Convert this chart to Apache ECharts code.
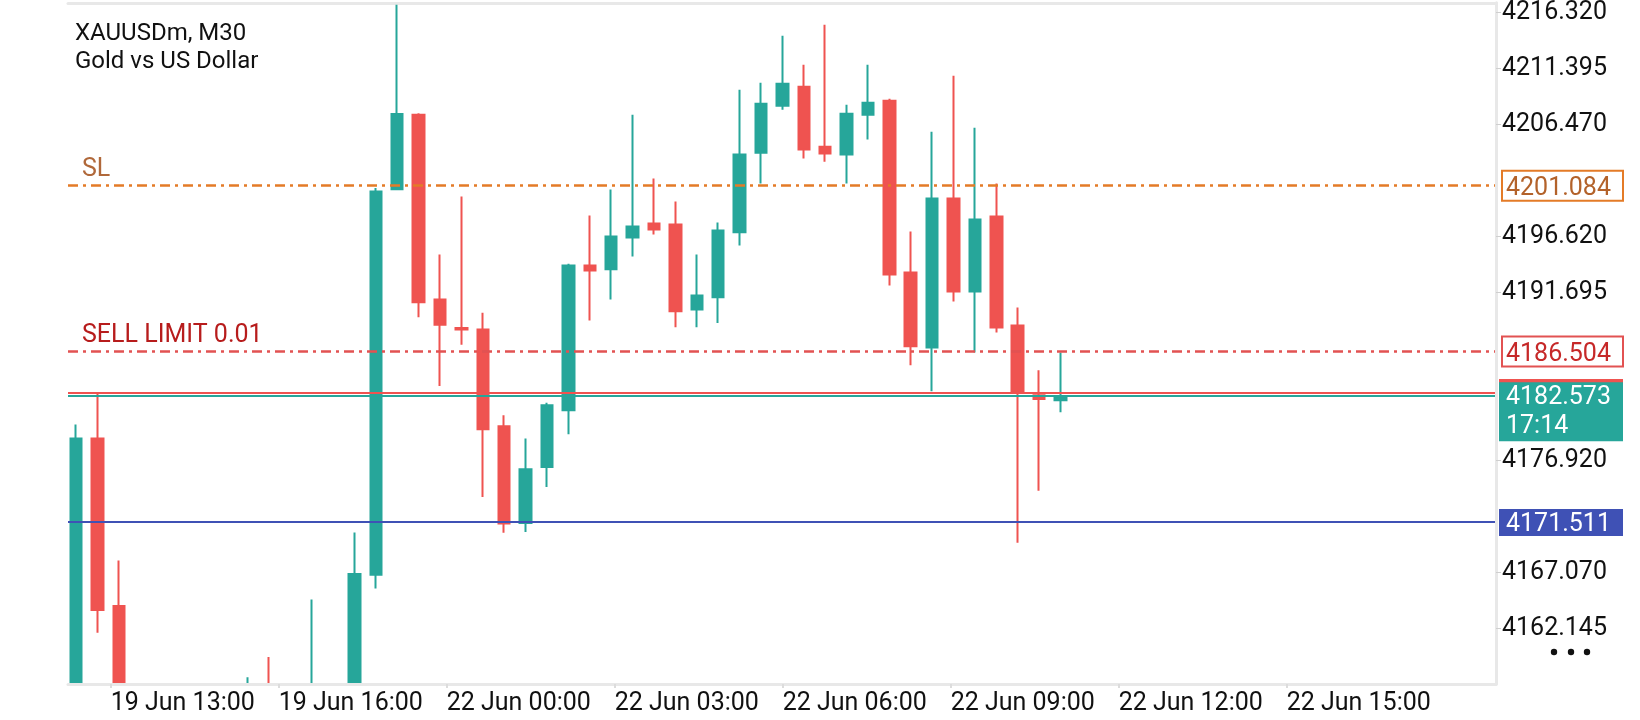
<!DOCTYPE html>
<html>
<head>
<meta charset="utf-8">
<script src="https://cdn.jsdelivr.net/npm/echarts@6/dist/echarts.min.js"></script>
<style>
  html, body { margin: 0; padding: 0; background: #fff; }
  #chart { width: 1640px; height: 720px; }
</style>
</head>
<body>
<div id="chart"></div>
<script>
// XAUUSDm M30 candles (bars 3-7, 10, 12 sit below the visible range)
var opens  = [4150.6, 4178.84, 4164.11, 4152.3, 4150.9, 4152.1, 4151.2, 4152.6, 4151.8, 4154.5,
              4153.2, 4154.0, 4155.6, 4155.1, 4166.86, 4200.77, 4207.33, 4191.08, 4188.57, 4188.44,
              4179.92, 4171.42, 4176.34, 4181.33, 4194.07, 4193.74, 4196.53, 4197.76, 4197.67, 4190.20,
              4191.28, 4196.99, 4203.99, 4208.12, 4209.79, 4204.52, 4203.82, 4207.33, 4208.56, 4193.45,
              4186.86, 4199.95, 4191.78, 4198.37, 4188.79, 4182.64, 4182.22];
var closes = [4178.84, 4163.75, 4152.3, 4150.9, 4152.1, 4151.2, 4152.6, 4151.8, 4154.5, 4153.2,
              4154.0, 4155.6, 4155.1, 4166.92, 4200.57, 4207.39, 4190.84, 4188.86, 4188.44, 4179.66,
              4171.37, 4176.14, 4181.77, 4194.07, 4193.63, 4196.61, 4197.49, 4197.23, 4190.05, 4191.43,
              4197.14, 4203.82, 4208.30, 4210.06, 4204.26, 4203.91, 4207.42, 4208.39, 4193.27, 4186.95,
              4199.95, 4191.78, 4198.11, 4188.62, 4182.85, 4182.32, 4182.573];
var lows   = [4149.9, 4161.76, 4151.2, 4149.6, 4150.2, 4150.4, 4150.5, 4151.0, 4151.2, 4152.0,
              4152.5, 4153.1, 4154.3, 4154.6, 4165.66, 4200.77, 4189.52, 4183.46, 4187.10, 4173.71,
              4170.55, 4170.63, 4174.59, 4179.22, 4189.23, 4191.08, 4194.86, 4196.79, 4188.64, 4188.64,
              4189.00, 4195.82, 4201.27, 4207.77, 4203.47, 4203.20, 4201.27, 4205.14, 4192.31, 4185.28,
              4183.00, 4190.90, 4186.42, 4188.18, 4169.67, 4174.24, 4181.15];
var highs  = [4180.07, 4182.93, 4168.12, 4153.8, 4153.4, 4154.6, 4155.3, 4154.9, 4157.84, 4159.62,
              4156.4, 4164.69, 4156.9, 4170.58, 4200.89, 4217.0, 4207.45, 4195.03, 4200.13, 4189.91,
              4180.89, 4178.84, 4182.00, 4194.22, 4198.46, 4200.74, 4207.33, 4201.71, 4199.69, 4195.03,
              4197.84, 4209.53, 4210.14, 4214.27, 4211.73, 4215.24, 4208.21, 4211.73, 4208.74, 4197.05,
              4205.84, 4210.76, 4206.19, 4201.27, 4190.38, 4184.84, 4186.42];

var priceTicks = [4162.145, 4167.070, 4171.995, 4176.920, 4181.845, 4186.770,
                  4191.695, 4196.620, 4201.545, 4206.470, 4211.395, 4216.320];
var hiddenTicks = [4181.845, 4186.770, 4201.545, 4171.995]; // covered by the price boxes
var timeLabels = ['19 Jun 13:00', '19 Jun 16:00', '22 Jun 00:00', '22 Jun 03:00',
                  '22 Jun 06:00', '22 Jun 09:00', '22 Jun 12:00', '22 Jun 15:00'];

var orderNames  = ['SL', 'SELL LIMIT 0.01'];
var orderPrices = [4201.084, 4186.504];
var bidPrice = 4182.573, askPrice = 4182.85, barTimer = '17:14';
var levelPrice = 4171.511;

var UP = '#26a69a', DOWN = '#ef5350';
var FONT = 'Roboto';
var FS = 25;      // axis and tag text
var FS_TITLE = 24;

var candles = opens.map(function (o, i) {
  return [i, o, closes[i], lows[i], highs[i]];
});
var visibleTicks = priceTicks.filter(function (t) { return hiddenTicks.indexOf(t) < 0; });
var labelIdx = timeLabels.map(function (t, i) { return i; });

var chart = echarts.init(document.getElementById('chart'));

var option = {
  animation: false,
  backgroundColor: '#fff',
  title: {
    text: 'XAUUSDm, M30\nGold vs US Dollar',
    left: 75, top: 20, padding: 0,
    textStyle: { fontFamily: FONT, fontSize: FS_TITLE, fontWeight: 'normal', color: '#111', lineHeight: 28 }
  },
  grid: { left: 68, right: 144, top: 2, bottom: 36 },
  xAxis: [
    {
      // bar index axis, drawn only as the top border
      type: 'value', position: 'top', min: -0.383, max: 66.35,
      axisLine: { show: true, onZero: false, lineStyle: { color: '#e8e8e8', width: 3 } },
      axisTick: { show: false }, axisLabel: { show: false }, splitLine: { show: false }
    },
    {
      // time label axis, one unit per label step
      type: 'value', position: 'bottom', min: -0.2542, max: 8.246, z: 60,
      axisLine: { show: true, onZero: false, lineStyle: { color: '#e8e8e8', width: 3 } },
      axisTick: { show: true, customValues: labelIdx, length: 4, lineStyle: { color: '#dcdcdc', width: 2 } },
      axisLabel: {
        customValues: labelIdx, align: 'left', margin: 7,
        fontFamily: FONT, fontSize: FS, color: '#111',
        formatter: function (v) { return timeLabels[Math.round(v)] || ''; }
      },
      splitLine: { show: false }
    }
  ],
  yAxis: {
    type: 'value', position: 'right', scale: true, min: 4157.25, max: 4217.17, z: 60,
    axisLine: { show: true, onZero: false, lineStyle: { color: '#e8e8e8', width: 3 } },
    axisTick: { show: true, customValues: visibleTicks, length: 5, lineStyle: { color: '#cfcfcf', width: 1 } },
    axisLabel: {
      customValues: visibleTicks, margin: 6, padding: [5, 0, 0, 0],
      fontFamily: FONT, fontSize: FS, color: '#111',
      formatter: function (v) { return v.toFixed(3); }
    },
    splitLine: { show: false }
  },
  series: [{
    type: 'candlestick',
    xAxisIndex: 0,
    data: candles,
    encode: { x: 0, y: [1, 2, 3, 4] },
    barWidth: 12,
    clip: true,
    itemStyle: { color: UP, color0: DOWN, borderColor: UP, borderColor0: DOWN, borderWidth: 2 },
    markLine: {
      silent: true, symbol: 'none', animation: false,
      label: { show: false },
      data: [
        { yAxis: orderPrices[0], lineStyle: { color: '#e47b27', width: 2.6, type: [10, 5, 3, 5] } },
        { yAxis: orderPrices[1], lineStyle: { color: '#e25252', width: 2.6, type: [10, 5, 3, 5] } },
        { yAxis: askPrice, lineStyle: { color: DOWN, width: 2, type: 'solid' } },
        { yAxis: bidPrice, lineStyle: { color: UP, width: 2, type: 'solid' } },
        { yAxis: levelPrice, lineStyle: { color: '#3f51b5', width: 2, type: 'solid' } }
      ]
    }
  }]
};
chart.setOption(option);

// price tags on the right and the order names on the left
function py(v) { return chart.convertToPixel({ yAxisIndex: 0 }, v); }
var boxX = 1499, boxW = 124, txtX = 1506;
function txt(x, y, s, color, va) {
  return { type: 'text', x: x, y: y, z: 100,
    style: { text: s, fill: color, font: FS + 'px ' + FONT, textAlign: 'left', textVerticalAlign: va || 'middle' } };
}
var orderColors = [{ line: '#e47b27', text: '#b3622a', name: '#b0683a' },
                   { line: '#e25252', text: '#c62828', name: '#b71c1c' }];
var g = [];
// white strip under the plot hides the parts of the bars that run past the axis
g.push({ type: 'rect', shape: { x: 0, y: 685.5, width: 1497, height: 40 }, z: 50, style: { fill: '#fff' } });
orderPrices.forEach(function (p, i) {
  var y = py(p);
  g.push({ type: 'rect', shape: { x: boxX + 3, y: y - 15, width: boxW - 3, height: 30 }, z: 90,
    style: { fill: '#fff', stroke: orderColors[i].line, lineWidth: 2 } });
  g.push(txt(txtX, y + 3, p.toFixed(3), orderColors[i].text));
  g.push(txt(82, y - 3, orderNames[i], orderColors[i].name, 'bottom'));
});
var ya = py(askPrice), yb = py(bidPrice), yl = py(levelPrice);
g.push({ type: 'rect', shape: { x: boxX, y: ya - 14, width: boxW, height: 28 }, z: 90, style: { fill: DOWN } });
g.push({ type: 'rect', shape: { x: boxX, y: yb - 14, width: boxW, height: 59 }, z: 91, style: { fill: UP } });
g.push(txt(txtX, yb + 2, bidPrice.toFixed(3), '#fff'));
g.push(txt(txtX, yb + 31, barTimer, '#fff'));
g.push({ type: 'rect', shape: { x: boxX, y: yl - 13, width: boxW, height: 27 }, z: 90, style: { fill: '#3f51b5' } });
g.push(txt(txtX, yl + 3, levelPrice.toFixed(3), '#fff'));
[1554, 1571, 1587].forEach(function (cx) {
  g.push({ type: 'circle', shape: { cx: cx, cy: 652, r: 3.2 }, style: { fill: '#111' } });
});
chart.setOption({ graphic: g });
</script>
</body>
</html>
